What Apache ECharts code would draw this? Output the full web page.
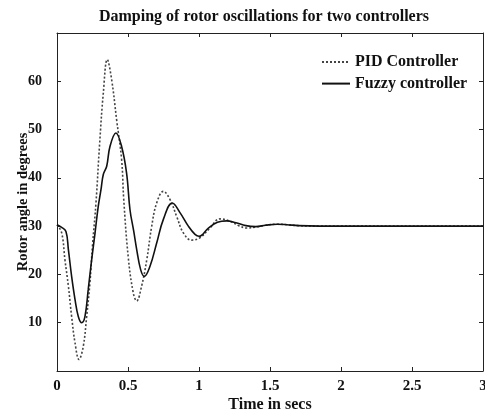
<!DOCTYPE html>
<html>
<head>
<meta charset="utf-8">
<script src="https://cdn.jsdelivr.net/npm/echarts@6/dist/echarts.min.js"></script>
<style>html,body{margin:0;padding:0;background:#fff;}#c{width:485px;height:414px;}</style>
</head>
<body>
<div id="c"></div>
<script>
var titleText = 'Damping of rotor oscillations for two controllers';
var xName = 'Time in secs';
var yName = 'Rotor angle in degrees';
var seriesNames = ['PID Controller', 'Fuzzy controller'];
var xTicks = [0, 0.5, 1, 1.5, 2, 2.5, 3];
var yTicks = [10, 20, 30, 40, 50, 60];

var pidT = [0, 0.033, 0.056, 0.08, 0.103, 0.127, 0.155, 0.185, 0.209, 0.232, 0.25, 0.275, 0.3, 0.326, 0.354, 0.385, 0.42, 0.455, 0.47, 0.502, 0.537, 0.561, 0.596, 0.632, 0.667, 0.702, 0.749, 0.796, 0.843, 0.89, 0.948, 1.007, 1.077, 1.148, 1.22, 1.28, 1.336, 1.4, 1.47, 1.55, 1.62, 1.7, 1.85, 2, 2.5, 3];
var pidY = [30.3, 28.6, 23, 17.6, 11.3, 5.8, 2.4, 5.1, 11.3, 18.3, 26, 35, 47, 57.5, 64.5, 60.3, 52, 43.8, 35.5, 23.5, 16.2, 14.5, 17.6, 23, 30, 34.8, 37.2, 35.5, 32, 28.6, 27.1, 27.6, 29.6, 31.5, 31, 30.1, 29.6, 29.8, 30.2, 30.4, 30.3, 30.1, 30, 30, 30, 30];

var fuzT = [0, 0.03, 0.063, 0.08, 0.103, 0.127, 0.15, 0.174, 0.197, 0.22, 0.244, 0.268, 0.29, 0.31, 0.326, 0.35, 0.373, 0.415, 0.455, 0.49, 0.514, 0.54, 0.561, 0.589, 0.615, 0.655, 0.702, 0.749, 0.812, 0.866, 0.925, 0.972, 1.0, 1.066, 1.13, 1.195, 1.26, 1.33, 1.4, 1.47, 1.55, 1.62, 1.7, 1.85, 2, 2.5, 3];
var fuzY = [30.3, 29.8, 28.9, 25.2, 19.6, 14.8, 11.3, 10, 11.3, 16.9, 23, 28.6, 34, 37.6, 40.7, 42.4, 46.5, 49.3, 46.5, 41, 33.4, 29, 25.2, 21, 19.6, 21.7, 26.5, 31.4, 34.8, 32.8, 30, 28.3, 27.9, 29.6, 30.8, 31.1, 30.7, 30.1, 29.9, 30.2, 30.4, 30.3, 30.1, 30, 30, 30, 30];

function pairs(t, y) { return t.map(function (v, i) { return [v, y[i]]; }); }

var FONT = '"Liberation Serif", "Times New Roman", serif';
var TXT = '#111';
var chart = echarts.init(document.getElementById('c'), null, {renderer: 'canvas'});

var axisLine = {show: true, onZero: false, lineStyle: {color: '#222', width: 1}};
var tick = {show: true, inside: true, length: 4, lineStyle: {color: '#222', width: 1}};

chart.setOption({
  animation: false,
  backgroundColor: '#fff',
  title: {
    text: titleText, left: 259, top: 4, textAlign: 'center',
    textStyle: {fontFamily: FONT, fontWeight: 'bold', fontSize: 16, color: TXT}
  },
  legend: {
    orient: 'vertical', left: 316, top: 49, itemWidth: 28, itemHeight: 16, itemGap: 5.6,
    data: [
      {name: seriesNames[0], itemStyle: {opacity: 0}},
      {name: seriesNames[1], itemStyle: {opacity: 0}}
    ],
    textStyle: {fontFamily: FONT, fontWeight: 'bold', fontSize: 16, color: TXT}
  },
  grid: {left: 57, right: 2, top: 33, bottom: 43, containLabel: false, outerBoundsMode: 'none'},
  xAxis: [{
    type: 'value', min: 0, max: 3, interval: 0.5,
    name: xName, nameLocation: 'middle', nameGap: 26, nameMoveOverlap: false,
    nameTextStyle: {fontFamily: FONT, fontWeight: 'bold', fontSize: 16, color: TXT},
    axisLine: axisLine, axisTick: tick, splitLine: {show: false},
    axisLabel: {fontFamily: FONT, fontWeight: 'bold', fontSize: 15, color: TXT, margin: 8,
      formatter: function (v) { return xTicks.indexOf(v) >= 0 ? String(v) : ''; }}
  }, {
    type: 'value', min: 0, max: 3, interval: 0.5, position: 'top',
    axisLine: axisLine, axisTick: tick, axisLabel: {show: false}, splitLine: {show: false}
  }],
  yAxis: [{
    type: 'value', min: 0, max: 70, interval: 10,
    name: yName, nameLocation: 'middle', nameGap: 26, nameMoveOverlap: false,
    nameTextStyle: {fontFamily: FONT, fontWeight: 'bold', fontSize: 14.5, color: TXT},
    axisLine: axisLine, axisTick: tick, splitLine: {show: false},
    axisLabel: {fontFamily: FONT, fontWeight: 'bold', fontSize: 14, color: TXT, margin: 15,
      formatter: function (v) { return yTicks.indexOf(v) >= 0 ? String(v) : ''; }}
  }, {
    type: 'value', min: 0, max: 70, interval: 10, position: 'right',
    axisLine: axisLine, axisTick: tick, axisLabel: {show: false}, splitLine: {show: false}
  }],
  series: [{
    name: seriesNames[0], type: 'line', smooth: 0.4, symbol: 'none',
    data: pairs(pidT, pidY),
    lineStyle: {color: '#444', width: 1.6, type: [2, 2]},
    itemStyle: {color: '#444'}
  }, {
    name: seriesNames[1], type: 'line', smooth: 0.4, symbol: 'none',
    data: pairs(fuzT, fuzY),
    lineStyle: {color: '#111', width: 1.6},
    itemStyle: {color: '#111'}
  }]
});
</script>
</body>
</html>
